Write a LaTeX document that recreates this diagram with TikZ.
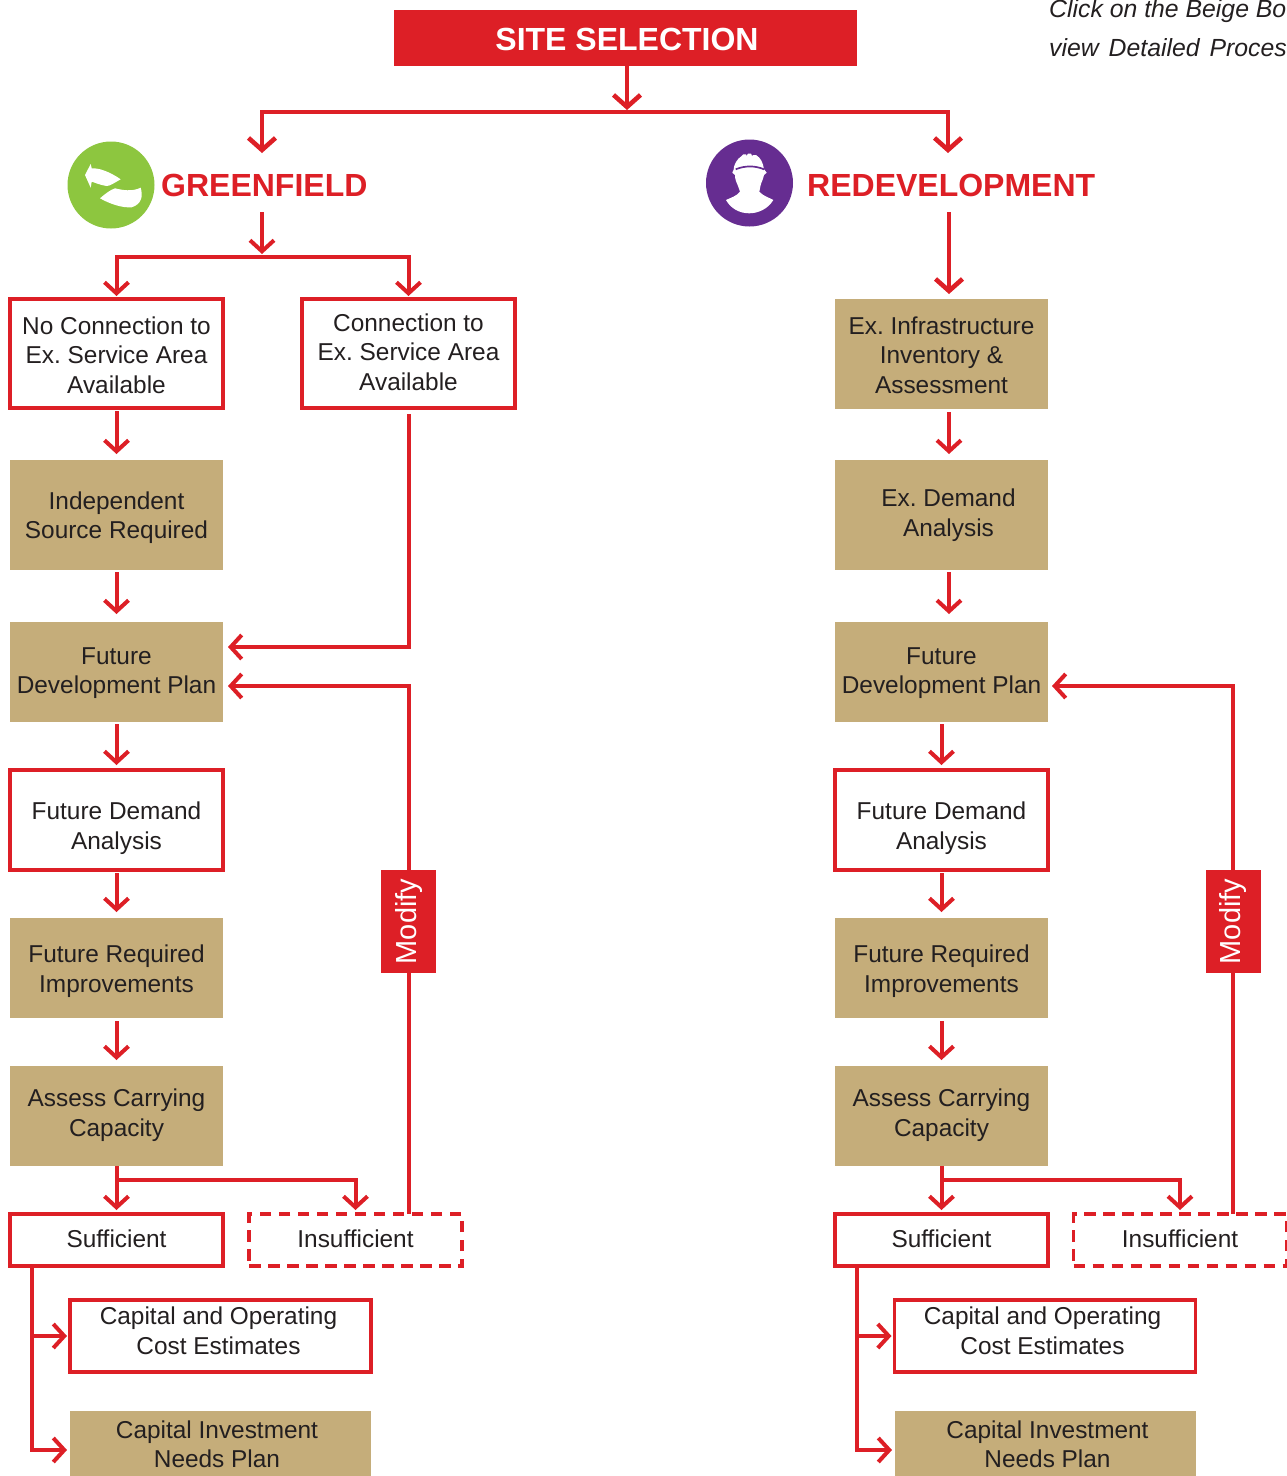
\documentclass[tikz,border=0pt]{standalone}
\usepackage{fontspec}
\setmainfont{Liberation Sans}
\usetikzlibrary{arrows.meta}
\definecolor{sitered}{RGB}{221, 31, 38}
\definecolor{sitebeige}{RGB}{197, 173, 122}
\definecolor{sitegreen}{RGB}{141, 198, 63}
\definecolor{sitepurple}{RGB}{102, 45, 145}
\definecolor{sitetext}{RGB}{35, 31, 32}
\tikzset{
    basebox/.style={minimum width=213pt, outer sep=0pt, inner sep=0pt, align=center, text=sitetext,
        font=\fontsize{24.4}{29.5}\selectfont\frenchspacing},
    boxtext/.style={basebox, minimum width=0pt},
    redbox/.style={basebox, draw=sitered, line width=3.4pt, fill=white},
    beigebox/.style={basebox, fill=sitebeige},
    dashbox/.style={redbox, dash pattern=on 11.5pt off 7.5pt},
    modifybox/.style={fill=sitered, text=white, minimum width=103pt, minimum height=55pt, inner sep=0pt,
        outer sep=0pt, rotate=90, font=\fontsize{29}{32}\selectfont},
    headtext/.style={text=sitered, anchor=west, inner sep=0pt, font=\fontsize{32}{38}\selectfont\bfseries},
    notetext/.style={text=sitetext, anchor=west, inner sep=0pt, font=\fontsize{24.8}{28}\selectfont\itshape},
    pipe/.style={draw=sitered, line width=4pt},
    flow/.style={pipe, -{Straight Barb[length=11pt, width=24pt, line width=4pt]}, shorten >=6pt},
    bigflow/.style={flow, line width=4.6pt, -{Straight Barb[length=12pt, width=27pt, line width=4.6pt]}}
}
\begin{document}
\begin{tikzpicture}[x=1pt, y=-1pt]
\useasboundingbox (0,0) rectangle (1286,1476);
% header
\node[fill=sitered, text=white, minimum width=463pt, minimum height=56pt, inner sep=0pt, outer sep=0pt,
    font=\fontsize{32}{38}\selectfont\bfseries, label={[text=white, font=\fontsize{32}{38}\selectfont\bfseries, inner sep=0pt, xshift=1.5pt, yshift=-1pt]center:SITE SELECTION}] (site) at (625.5,38) {};
\node[notetext] (note1) at (1049,11) {Click on the Beige Bo};
\node[notetext] (note2) at (1049,48) {view\hspace{3pt} Detailed\hspace{3pt} Proces};
% branch heads
\node[circle, fill=sitegreen, minimum size=87pt, inner sep=0pt] (greenicon) at (111,185) {};
\node[circle, fill=sitepurple, minimum size=87pt, inner sep=0pt] (redevicon) at (749.5,183) {};
\node[headtext] (green) at (161,185) {GREENFIELD};
\node[headtext] (redev) at (807,185) {REDEVELOPMENT};
% icon shapes
\fill[white] (85,175) -- (90.7,164) -- (91.7,168.3) .. controls (100,168) and (110,172) .. (120.7,179.3)
    .. controls (114,183) and (110,186) .. (106.7,186) .. controls (100,185) and (96,183) .. (91.7,181.7)
    -- (90.7,187.7) -- cycle;
\fill[white] (100,198.3) .. controls (105,194) and (110,190) .. (115,188.3)
    .. controls (122,190) and (132,192) .. (140.7,187.7) .. controls (143,196) and (142,204) .. (131.7,207.3)
    .. controls (122,208) and (110,204) .. (100,198.3) -- cycle;
\fill[white] (732.3,172.7) -- (733.5,170) .. controls (734,164) and (737,159) .. (741.7,156) -- (743.3,154.3) -- (746,154.3)
    -- (746.7,156) -- (748,153.5) -- (751,153.5) -- (752,156) -- (753,155) -- (756,155)
    .. controls (761,158) and (763,163) .. (764,169.3) -- (766.7,172.7) -- (764,175)
    .. controls (763,180) and (761,183) .. (760.7,185) -- (759.3,191.7) .. controls (763,196) and (770,198) .. (773.3,200)
    .. controls (768,209) and (758,213.3) .. (749.3,213.3) .. controls (740,213.3) and (731,209) .. (726,200)
    .. controls (730,198) and (737,196) .. (740,191.7) -- (738.3,186.7) .. controls (736.5,182) and (735,180) .. (735,175) -- cycle;
\draw[sitepurple, line width=1.7pt] (735.7,169.3) .. controls (745,165.5) and (755,165.5) .. (764,169.3);
% greenfield column
\node[redbox, minimum height=109pt, label={[boxtext, yshift=-1.5pt]center:No Connection to\\Ex. Service Area\\Available}] (noconn) at (116.5,353.5) {};
\node[redbox, minimum height=109pt, label={[boxtext, yshift=1.5pt]center:Connection to\\Ex. Service Area\\Available}] (conn) at (408.5,353.5) {};
\node[beigebox, minimum height=110pt, label={[boxtext, yshift=-2.5pt]center:Independent\\Source Required}] (indep) at (116.5,515) {};
\node[beigebox, minimum height=100pt, label={[boxtext, yshift=-1pt]center:Future\\Development Plan}] (lplan) at (116.5,672) {};
\node[redbox, minimum height=100pt, label={[boxtext, yshift=-8pt]center:Future Demand\\Analysis}] (ldemand) at (116.5,820) {};
\node[beigebox, minimum height=100pt, label={[boxtext, yshift=-3pt]center:Future Required\\Improvements}] (lreq) at (116.5,968) {};
\node[beigebox, minimum height=100pt, label={[boxtext, yshift=1pt]center:Assess Carrying\\Capacity}] (lassess) at (116.5,1116) {};
\node[redbox, minimum height=52pt, label={[boxtext, yshift=1pt]center:Sufficient}] (lsuff) at (116.5,1240) {};
\node[dashbox, minimum height=52pt, label={[boxtext, yshift=1pt]center:Insufficient}] (linsuff) at (355.5,1240) {};
\node[redbox, minimum width=301pt, minimum height=72pt, label={[boxtext, xshift=-2pt, yshift=5pt]center:Capital and Operating\\Cost Estimates}] (lcost) at (220.5,1336) {};
\node[beigebox, minimum width=301pt, minimum height=65pt, label={[boxtext, xshift=-3.5pt, yshift=-1pt]center:Capital Investment\\Needs Plan}] (lneeds) at (220.5,1443.5) {};
\node[modifybox] (lmodify) at (408.5,921.5) {Modify};
% redevelopment column
\node[beigebox, minimum height=110pt, label={[boxtext, yshift=-1pt]center:Ex. Infrastructure\\Inventory \&\\Assessment}] (infra) at (941.5,354) {};
\node[beigebox, minimum height=110pt, label={[boxtext, xshift=7pt]center:Ex. Demand\\Analysis}] (exdemand) at (941.5,515) {};
\node[beigebox, minimum height=100pt, label={[boxtext, yshift=-1pt]center:Future\\Development Plan}] (rplan) at (941.5,672) {};
\node[redbox, minimum height=100pt, label={[boxtext, yshift=-8pt]center:Future Demand\\Analysis}] (rdemand) at (941.5,820) {};
\node[beigebox, minimum height=100pt, label={[boxtext, yshift=-3pt]center:Future Required\\Improvements}] (rreq) at (941.5,968) {};
\node[beigebox, minimum height=100pt, label={[boxtext, yshift=1pt]center:Assess Carrying\\Capacity}] (rassess) at (941.5,1116) {};
\node[redbox, minimum height=52pt, label={[boxtext, yshift=1pt]center:Sufficient}] (rsuff) at (941.5,1240) {};
\node[dashbox, minimum height=52pt, label={[boxtext, yshift=1pt]center:Insufficient}] (rinsuff) at (1180,1240) {};
\node[redbox, minimum width=301pt, minimum height=72pt, label={[boxtext, xshift=-2.5pt, yshift=5pt]center:Capital and Operating\\Cost Estimates}] (rcost) at (1045,1336) {};
\node[beigebox, minimum width=301pt, minimum height=65pt, label={[boxtext, xshift=2pt, yshift=-1pt]center:Capital Investment\\Needs Plan}] (rneeds) at (1045.5,1443.5) {};
\node[modifybox] (rmodify) at (1233,921.5) {Modify};
% free ends of the connectors
\coordinate (splittop) at (627,112);
\coordinate (greentip) at (262,153);
\coordinate (redevtip) at (948,153);
\coordinate (greenout) at (262,212);
\coordinate (greensplit) at (262,257);
\coordinate (redevout) at (949,212);
% connectors, top
\draw[bigflow, shorten >=2pt] (site.south -| splittop) -- (splittop);
\draw[bigflow, shorten >=0pt] (splittop) -| (greentip);
\draw[bigflow, shorten >=0pt] (splittop) -| (redevtip);
\draw[flow, shorten >=3pt] (greenout) -- (greensplit);
\draw[flow, shorten >=3pt] (greensplit) -| (noconn.north);
\draw[flow, shorten >=3pt] (greensplit) -| (conn.north);
\draw[bigflow, shorten >=5pt] (redevout) -- (redevout |- infra.north);
% greenfield connectors
\draw[flow] ([yshift=-3pt]noconn.south) -- (indep.north);
\draw[flow, shorten >=8pt] ([yshift=-2pt]indep.south) -- (lplan.north);
\draw[flow, shorten >=5pt] ([yshift=-6pt]conn.south) |- ([yshift=25pt]lplan.east);
\draw[flow, shorten >=5pt] (lmodify.east) |- ([yshift=-14pt]lplan.east);
\draw[flow, shorten >=5pt] ([yshift=-2pt]lplan.south) -- (ldemand.north);
\draw[flow] ([yshift=-3pt]ldemand.south) -- (lreq.north);
\draw[flow] ([yshift=-3pt]lreq.south) -- (lassess.north);
\draw[flow, shorten >=4pt] (lassess.south) -- (lsuff.north);
\draw[flow, shorten >=4pt] ([yshift=-14pt]lassess.south) -| (linsuff.north);
\draw[pipe] (lmodify.west) -- (lmodify.west |- linsuff.north);
\coordinate (lcorner) at ([xshift=-84.5pt]lsuff.south);
\draw[flow, shorten >=3pt] (lcorner) |- ([yshift=-6.5pt]lneeds.west);
\draw[flow, shorten >=3pt] (lcorner |- lcost.west) -- (lcost.west);
% redevelopment connectors
\draw[flow] ([xshift=7.5pt,yshift=-3pt]infra.south) -- ([xshift=7.5pt]exdemand.north);
\draw[flow, shorten >=8pt] ([xshift=7.5pt,yshift=-2pt]exdemand.south) -- ([xshift=7.5pt]rplan.north);
\draw[flow, shorten >=4pt] (rmodify.east) |- ([yshift=-14pt]rplan.east);
\draw[flow, shorten >=5pt] ([yshift=-2pt]rplan.south) -- (rdemand.north);
\draw[flow] ([yshift=-3pt]rdemand.south) -- (rreq.north);
\draw[flow] ([yshift=-3pt]rreq.south) -- (rassess.north);
\draw[flow, shorten >=4pt] (rassess.south) -- (rsuff.north);
\draw[flow, shorten >=4pt] ([yshift=-14pt]rassess.south) -| (rinsuff.north);
\draw[pipe] (rmodify.west) -- (rmodify.west |- rinsuff.north);
\coordinate (rcorner) at ([xshift=-84.5pt]rsuff.south);
\draw[flow, shorten >=3pt] (rcorner) |- ([yshift=-6.5pt]rneeds.west);
\draw[flow, shorten >=3pt] (rcorner |- rcost.west) -- (rcost.west);
\end{tikzpicture}
\end{document}
